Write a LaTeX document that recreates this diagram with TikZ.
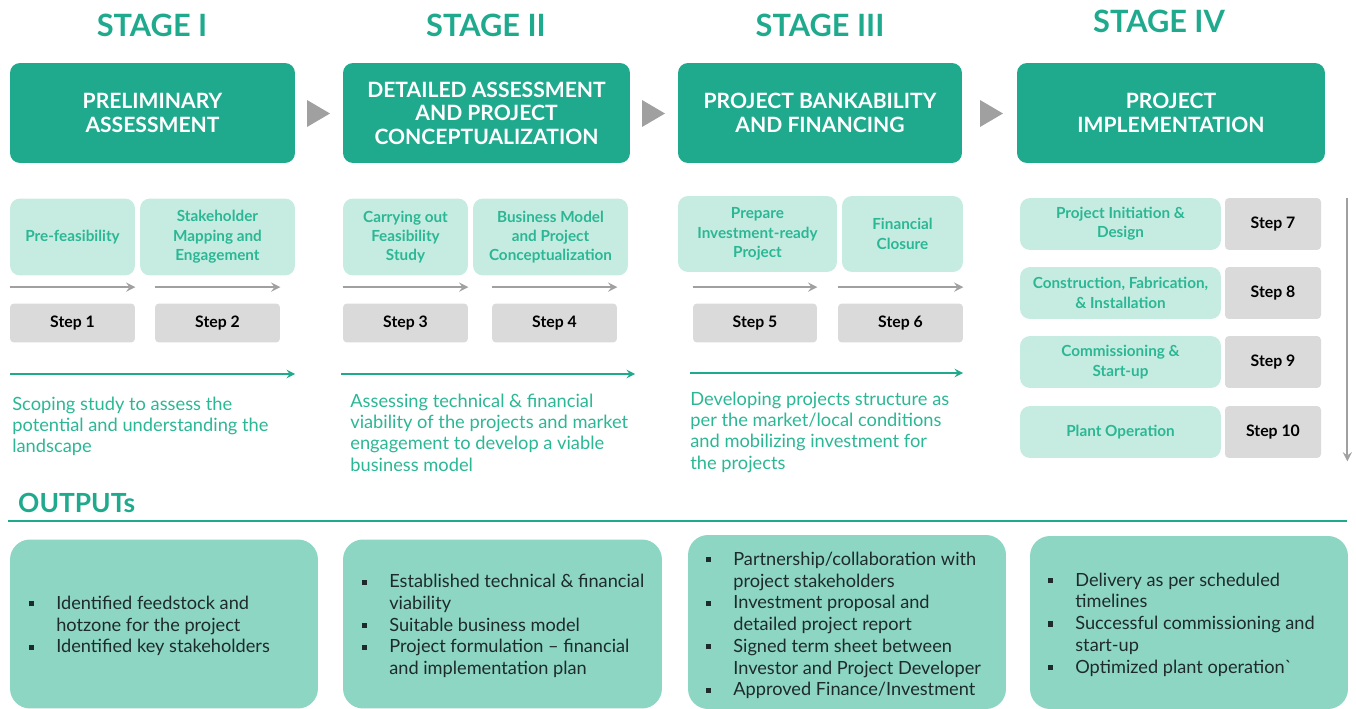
\documentclass[tikz,border=0pt]{standalone}
\usepackage{fontspec}
\setmainfont{Lato}
\definecolor{stageteal}{HTML}{1FAA8E}
\definecolor{lightteal}{HTML}{C6ECE1}
\definecolor{subtext}{HTML}{2BB795}
\definecolor{stepgray}{HTML}{DADADA}
\definecolor{arrowgray}{HTML}{A0A0A0}
\definecolor{outteal}{HTML}{8DD6C4}
\definecolor{outtext}{HTML}{1E2B2B}
\newcommand{\sqbul}{\makebox[0.54cm][l]{\rule[0.17em]{0.28em}{0.28em}}}
\newcommand{\sqind}{\hspace*{0.54cm}}
\begin{document}
\begin{tikzpicture}[x=0.02cm,y=-0.02cm,
 stagetitle/.style={text=stageteal,font=\fontsize{17.5}{20}\selectfont\bfseries},
 headbox/.style={fill=stageteal,rounded corners=0.2cm,text=white,align=center,minimum height=2cm,font=\fontsize{12}{13.4}\selectfont\bfseries},
 subbox/.style={fill=lightteal,rounded corners=0.2cm,text=subtext,align=center,font=\fontsize{8.7}{11}\selectfont\bfseries},
 stepbox/.style={fill=stepgray,rounded corners=0.08cm,text=black,font=\fontsize{9}{11}\selectfont\bfseries},
 desc/.style={anchor=north west,inner sep=0,text=subtext,align=left,font=\fontsize{10.4}{12}\selectfont},
 outbox/.style={fill=outteal,rounded corners=0.4cm},
 outlist/.style={anchor=west,inner sep=0,text=outtext,align=left,font=\fontsize{10.35}{12.35}\selectfont},
 grayarrow/.style={->,>=stealth,arrowgray,line width=1.3pt},
 tealarrow/.style={->,>=stealth,stageteal,line width=1.1pt}]
 \useasboundingbox (0,0) rectangle (1356,709);
 % stage titles
 \node[stagetitle] (t1) at (152,25) {STAGE I};
 \node[stagetitle] (t2) at (486,25) {STAGE II};
 \node[stagetitle] (t3) at (820,25) {STAGE III};
 \node[stagetitle] (t4) at (1159,21) {STAGE IV};
 % stage boxes
 \node[headbox,minimum width=5.7cm] (h1) at (152.5,113) {PRELIMINARY\\ASSESSMENT};
 \node[headbox,minimum width=5.74cm] (h2) at (486.5,113) {DETAILED ASSESSMENT\\AND PROJECT\\CONCEPTUALIZATION};
 \node[headbox,minimum width=5.68cm] (h3) at (820,113) {PROJECT BANKABILITY\\AND FINANCING};
 \node[headbox,minimum width=6.16cm] (h4) at (1171,113) {PROJECT\\IMPLEMENTATION};
 \fill[arrowgray] (307,100) -- (330,113.5) -- (307,127) -- cycle; %I->II
 \fill[arrowgray] (642,100) -- (665,113.5) -- (642,127) -- cycle; %II->III
 \fill[arrowgray] (980,100) -- (1003,113.5) -- (980,127) -- cycle; %III->IV
 % sub steps
 \node[subbox,minimum width=2.5cm,minimum height=1.54cm] (p1) at (72.5,237) {Pre-feasibility};
 \node[subbox,minimum width=3.1cm,minimum height=1.54cm] (p2) at (217.5,237) {Stakeholder\\Mapping and\\Engagement};
 \node[subbox,minimum width=2.5cm,minimum height=1.54cm] (p3) at (405.5,237) {Carrying out\\Feasibility\\Study};
 \node[subbox,minimum width=3.1cm,minimum height=1.54cm] (p4) at (550.5,237) {Business Model\\and Project\\Conceptualization};
 \node[subbox,minimum width=3.18cm,minimum height=1.52cm] (p5) at (757.5,234) {Prepare\\Investment-ready\\Project};
 \node[subbox,minimum width=2.42cm,minimum height=1.52cm] (p6) at (902.5,234) {Financial\\Closure};
 \node[subbox,minimum width=4.02cm,minimum height=1.04cm] (p7) at (1120.5,224) {Project Initiation \&\\Design};
 \node[subbox,minimum width=4.02cm,minimum height=1.04cm] (p8) at (1120.5,293) {Construction, Fabrication,\\\& Installation};
 \node[subbox,minimum width=4.02cm,minimum height=1.04cm] (p9) at (1120.5,362) {Commissioning \&\\Start-up};
 \node[subbox,minimum width=4.02cm,minimum height=1.04cm] (p10) at (1120.5,432) {Plant Operation};
 % step numbers
 \node[stepbox,minimum width=2.5cm,minimum height=0.78cm] (s1) at (72.5,323) {Step 1};
 \node[stepbox,minimum width=2.5cm,minimum height=0.78cm] (s2) at (217.5,323) {Step 2};
 \node[stepbox,minimum width=2.5cm,minimum height=0.78cm] (s3) at (405.5,323) {Step 3};
 \node[stepbox,minimum width=2.5cm,minimum height=0.78cm] (s4) at (554.5,323) {Step 4};
 \node[stepbox,minimum width=2.48cm,minimum height=0.78cm] (s5) at (755,323) {Step 5};
 \node[stepbox,minimum width=2.5cm,minimum height=0.78cm] (s6) at (900.5,323) {Step 6};
 \node[stepbox,minimum width=1.92cm,minimum height=1.04cm] (s7) at (1273,224) {Step 7};
 \node[stepbox,minimum width=1.92cm,minimum height=1.04cm] (s8) at (1273,293) {Step 8};
 \node[stepbox,minimum width=1.92cm,minimum height=1.04cm] (s9) at (1273,362) {Step 9};
 \node[stepbox,minimum width=1.92cm,minimum height=1.04cm] (s10) at (1273,432) {Step 10};
 \foreach \s in {s1,s2,s3,s4,s5,s6}
  \draw[grayarrow] ([yshift=0.32cm]\s.north west) -- ([yshift=0.32cm]\s.north east);
 \draw[grayarrow] ([xshift=0.52cm]s7.north east) -- ([xshift=0.52cm,yshift=-0.06cm]s10.south east); %down
 % stage arrows and text
 \coordinate (a1) at (10,374); \coordinate (b1) at (295,374);
 \coordinate (a2) at (341,374); \coordinate (b2) at (635,374);
 \coordinate (a3) at (690,373); \coordinate (b3) at (963,373);
 \draw[tealarrow] (a1) -- (b1);
 \draw[tealarrow] (a2) -- (b2);
 \draw[tealarrow] (a3) -- (b3);
 \node[desc] (d1) at (12,397) {Scoping study to assess the\\potential and understanding the\\landscape};
 \node[desc] (d2) at (350,394) {Assessing technical \& financial\\viability of the projects and market\\engagement to develop a viable\\business model};
 \node[desc] (d3) at (690,392) {Developing projects structure as\\per the market/local conditions\\and mobilizing investment for\\the projects};
 % outputs
 \node[anchor=west,text=stageteal,font=\fontsize{15}{18}\selectfont\bfseries] (out) at (12,503) {OUTPUTs};
 \coordinate (l1) at (8,521); \coordinate (l2) at (1347,521);
 \draw[stageteal,line width=1.2pt] (l1) -- (l2);
 \node[outbox,minimum width=6.16cm,minimum height=3.38cm] (o1) at (164,624) {};
 \node[outbox,minimum width=6.38cm,minimum height=3.38cm] (o2) at (502.5,624) {};
 \node[outbox,minimum width=6.36cm,minimum height=3.48cm] (o3) at (847,622) {};
 \node[outbox,minimum width=6.36cm,minimum height=3.46cm] (o4) at (1189,622.5) {};
 \node[outlist] (ol1) at (29,626) {\sqbul Identified feedstock and\\\sqind hotzone for the project\\\sqbul Identified key stakeholders};
 \node[outlist] (ol2) at (362,626) {\sqbul Established technical \& financial\\\sqind viability\\\sqbul Suitable business model\\\sqbul Project formulation -- financial\\\sqind and implementation plan};
 \node[outlist] (ol3) at (706,625.5) {\sqbul Partnership/collaboration with\\\sqind project stakeholders\\\sqbul Investment proposal and\\\sqind detailed project report\\\sqbul Signed term sheet between\\\sqind Investor and Project Developer\\\sqbul Approved Finance/Investment};
 \node[outlist] (ol4) at (1048,624.5) {\sqbul Delivery as per scheduled\\\sqind timelines\\\sqbul Successful commissioning and\\\sqind start-up\\\sqbul Optimized plant operation\textasciigrave};
\end{tikzpicture}
\end{document}
